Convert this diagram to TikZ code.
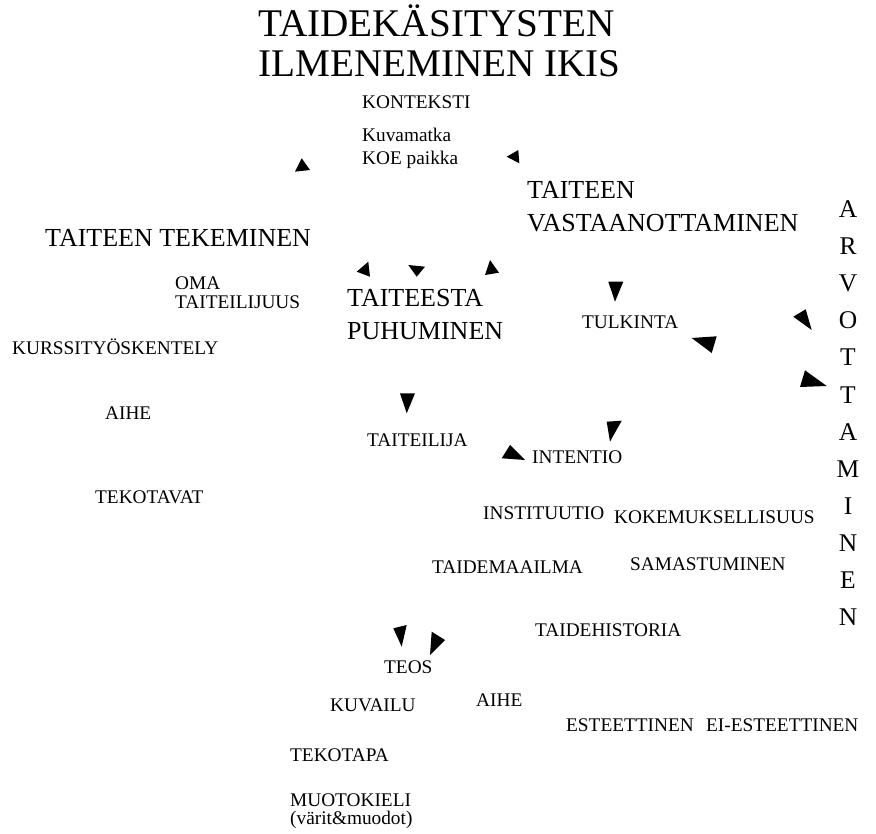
\documentclass[tikz,border=0pt]{standalone}
\usepackage{fontspec}
\setmainfont{Liberation Serif}
\begin{document}
\begin{tikzpicture}[x=1pt,y=-1pt,
  lbl/.style={anchor=base west,inner sep=0pt,font=\fontsize{19.3}{22}\selectfont},
  big/.style={anchor=base west,inner sep=0pt,font=\fontsize{26}{30}\selectfont},
  ttl/.style={anchor=base west,inner sep=0pt,font=\fontsize{39.2}{42}\selectfont},
  vlet/.style={anchor=base,inner sep=0pt,font=\fontsize{25.5}{29}\selectfont},
  head/.style={fill=black}]
\useasboundingbox (0,0) rectangle (876,834);
% title
\node[ttl] (t1) at (258,37) {TAIDEKÄSITYSTEN};
\node[ttl] (t2) at (258,77) {ILMENEMINEN IKIS};
% context
\node[lbl] (kont) at (362,108.5) {KONTEKSTI};
\node[lbl] (kuva) at (362,141.7) {Kuvamatka};
\node[lbl] (koe) at (362,165) {KOE paikka};
% big headings
\node[big] (vast1) at (527,199) {TAITEEN};
\node[big] (vast2) at (527,232) {VASTAANOTTAMINEN};
\node[big] (tek) at (45,247) {TAITEEN TEKEMINEN};
\node[big] (puh1) at (347,307) {TAITEESTA};
\node[big] (puh2) at (347,340) {PUHUMINEN};
% left column
\node[lbl] (oma1) at (175,290) {OMA};
\node[lbl] (oma2) at (175,309) {TAITEILIJUUS};
\node[lbl] (kurs) at (12,355) {KURSSITYÖSKENTELY};
\node[lbl] (aihe1) at (105,419) {AIHE};
\node[lbl] (tekot) at (95,503) {TEKOTAVAT};
% middle
\node[lbl] (tulk) at (582,328.7) {TULKINTA};
\node[lbl] (tlija) at (367,446.7) {TAITEILIJA};
\node[lbl] (inte) at (532,463) {INTENTIO};
\node[lbl] (inst) at (483,519) {INSTITUUTIO};
\node[lbl] (koke) at (614,523) {KOKEMUKSELLISUUS};
\node[lbl] (tmaa) at (432,573) {TAIDEMAAILMA};
\node[lbl] (sama) at (630,570) {SAMASTUMINEN};
\node[lbl] (this) at (535,636) {TAIDEHISTORIA};
% bottom
\node[lbl] (teos) at (384,673) {TEOS};
\node[lbl] (kuvai) at (330,711) {KUVAILU};
\node[lbl] (aihe2) at (476,706.5) {AIHE};
\node[lbl] (este) at (566,731.5) {ESTEETTINEN};
\node[lbl] (eies) at (706,731.5) {EI-ESTEETTINEN};
\node[lbl] (tekop) at (290,761.5) {TEKOTAPA};
\node[lbl] (muot1) at (290,806) {MUOTOKIELI};
\node[lbl] (muot2) at (290,824) {(värit\&muodot)};
% vertical ARVOTTAMINEN
\node[vlet] (v1) at (848,217.5) {A};
\node[vlet] (v2) at (848,254.6) {R};
\node[vlet] (v3) at (848,291.7) {V};
\node[vlet] (v4) at (848,328.8) {O};
\node[vlet] (v5) at (848,365.9) {T};
\node[vlet] (v6) at (848,403) {T};
\node[vlet] (v7) at (848,440.1) {A};
\node[vlet] (v8) at (848,477.2) {M};
\node[vlet] (v9) at (848,514.3) {I};
\node[vlet] (v10) at (848,551.4) {N};
\node[vlet] (v11) at (848,588.5) {E};
\node[vlet] (v12) at (848,625.6) {N};
% arrowheads (free standing)
\fill[head] (301.7,158.3) -- (295,171.7) -- (310,170) -- cycle;
\fill[head] (506.7,156.7) -- (518.3,150) -- (519.3,163.3) -- cycle;
\fill[head] (356.7,271.7) -- (368.3,261.7) -- (370,276.7) -- cycle;
\fill[head] (408.3,265) -- (425,266.7) -- (416.7,276.7) -- cycle;
\fill[head] (490,260) -- (485,275) -- (499,272.7) -- cycle;
\fill[head] (608.3,281.7) -- (623.3,281.7) -- (615,301.7) -- cycle;
\fill[head] (691.7,338) -- (716.7,336.3) -- (711.7,353) -- cycle;
\fill[head] (793.3,316.7) -- (805.7,309.3) -- (811.7,330) -- cycle;
\fill[head] (805,370.3) -- (800,387) -- (826.7,386) -- cycle;
\fill[head] (400,393.3) -- (415,393.3) -- (406.7,413.3) -- cycle;
\fill[head] (510,445) -- (501.7,458.3) -- (525,460) -- cycle;
\fill[head] (606.7,421.7) -- (621.7,420.7) -- (610,441.7) -- cycle;
\fill[head] (393.3,628.3) -- (406.7,625) -- (401.7,646.7) -- cycle;
\fill[head] (431.7,631.7) -- (445,640) -- (430,655) -- cycle;
\end{tikzpicture}
\end{document}
